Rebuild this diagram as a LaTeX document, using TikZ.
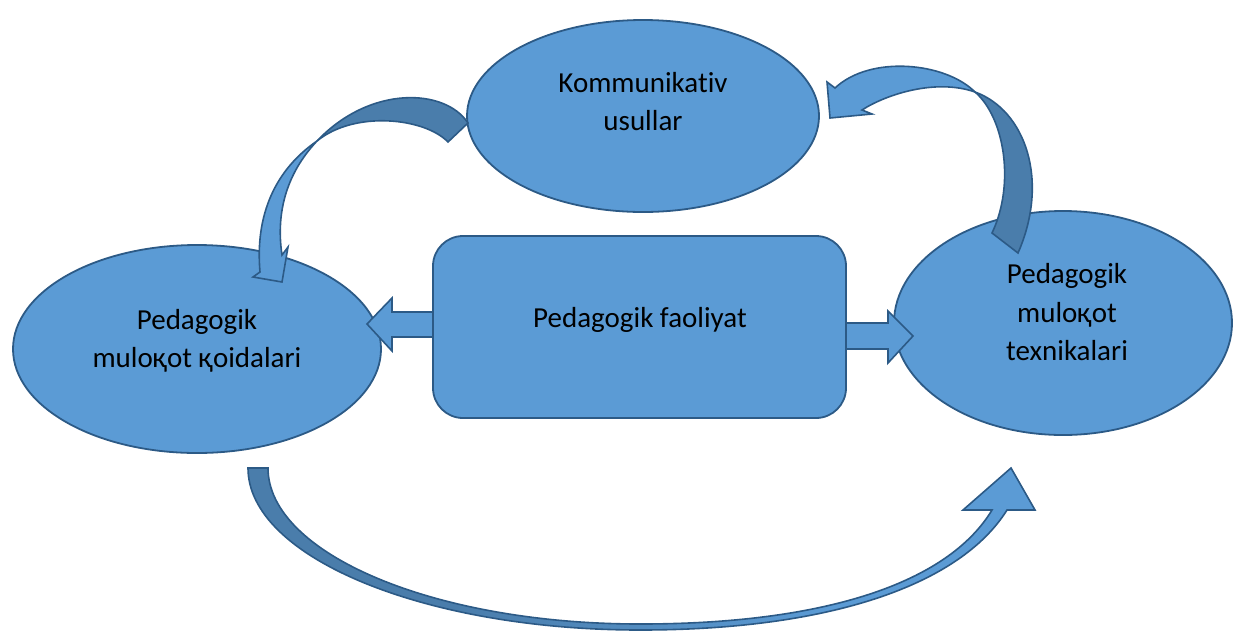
\documentclass[tikz,border=0pt]{standalone}
\usepackage{fontspec}
\setmainfont{Carlito}[Ligatures=NoCommon]
\usetikzlibrary{shapes.geometric}
\definecolor{fillblue}{HTML}{5B9BD5}
\definecolor{darkblue}{HTML}{4A7DAB}
\definecolor{edgeblue}{HTML}{2C5A86}
\pgfdeclarehorizontalshading{cshade}{100bp}{color(0bp)=(darkblue); color(38bp)=(darkblue); color(62bp)=(fillblue); color(100bp)=(fillblue)}
\begin{document}
\begin{tikzpicture}[x=1pt,y=-1pt,
  oval/.style={ellipse, fill=fillblue, draw=edgeblue, line width=1.8pt, inner sep=0pt},
  roundbox/.style={rectangle, rounded corners=30pt, fill=fillblue, draw=edgeblue, line width=1.8pt, inner sep=0pt},
  lightpart/.style={fill=fillblue, draw=edgeblue, line width=1.6pt, line join=miter},
  darkpart/.style={fill=darkblue, draw=edgeblue, line width=1.6pt, line join=miter},
  outline/.style={draw=edgeblue, line width=1.6pt, line join=miter},
  lbl/.style={anchor=base, inner sep=0pt, font=\fontsize{29}{38}\selectfont}]
\useasboundingbox (0,0) rectangle (1233,630);

% shapes
\node[oval, minimum width=352pt, minimum height=192pt] (top) at (643,116) {};
\node[oval, minimum width=368pt, minimum height=208pt] (left) at (197,349) {};
\node[oval, minimum width=338pt, minimum height=224pt] (right) at (1063,323) {};
\node[roundbox, minimum width=413pt, minimum height=182pt] (box) at (639.5,327) {};

% labels
\node[lbl] (t1a) at (643,92) {Kommunikativ};
\node[lbl] (t1b) at (643,130) {usullar};
\node[lbl] (t2a) at (197,329) {Pedagogik};
\node[lbl] (t2b) at (197,367) {mulоқot қoidalari};
\node[lbl] (t3a) at (1067,283) {Pedagogik};
\node[lbl] (t3b) at (1067,322) {mulоқot};
\node[lbl] (t3c) at (1067,360) {texnikalari};
\node[lbl] (t4) at (640,327) {Pedagogik faoliyat};

% straight block arrows
\draw[lightpart] (433,312) -- (392,312) -- (392,298) -- (367,324) -- (392,351) -- (392,337) -- (433,337) -- cycle;
\draw[lightpart] (846,323) -- (888,323) -- (888,311) -- (913,336) -- (888,363) -- (888,349) -- (846,349) -- cycle;

% curved arrow: top -> left
\draw[darkpart] (468,123) .. controls (445,88) and (370,85) .. (317,141)
  .. controls (355,110) and (425,118) .. (448,142) -- cycle;
\draw[lightpart] (317,141) .. controls (275,170) and (255,215) .. (260,272)
  -- (253,277) -- (282,282) -- (288,247) -- (282,255)
  .. controls (276,215) and (285,175) .. (317,141) -- cycle;

% curved arrow: right -> top
\draw[darkpart] (975,92) .. controls (1025,110) and (1050,180) .. (1018,253)
  -- (992,233) .. controls (1015,185) and (1005,118) .. (975,92) -- cycle;
\draw[lightpart] (835,88) -- (827,82) -- (830,118) -- (872,114) -- (862,110)
  .. controls (885,95) and (935,78) .. (975,92)
  .. controls (945,62) and (870,55) .. (835,88) -- cycle;

% curved arrow: left -> right (bottom)
\shade[shading=cshade] (248,468) .. controls (248,557) and (424,630) .. (640,630)
  .. controls (830,630) and (960,585) .. (1007,510)
  -- (1035,510) -- (1011,468) -- (963,510) -- (992,510)
  .. controls (948,583) and (825,624) .. (640,624)
  .. controls (433,624) and (268,553) .. (268,468) -- cycle;
\draw[outline] (248,468) .. controls (248,557) and (424,630) .. (640,630)
  .. controls (830,630) and (960,585) .. (1007,510)
  -- (1035,510) -- (1011,468) -- (963,510) -- (992,510)
  .. controls (948,583) and (825,624) .. (640,624)
  .. controls (433,624) and (268,553) .. (268,468) -- cycle;
\end{tikzpicture}
\end{document}
